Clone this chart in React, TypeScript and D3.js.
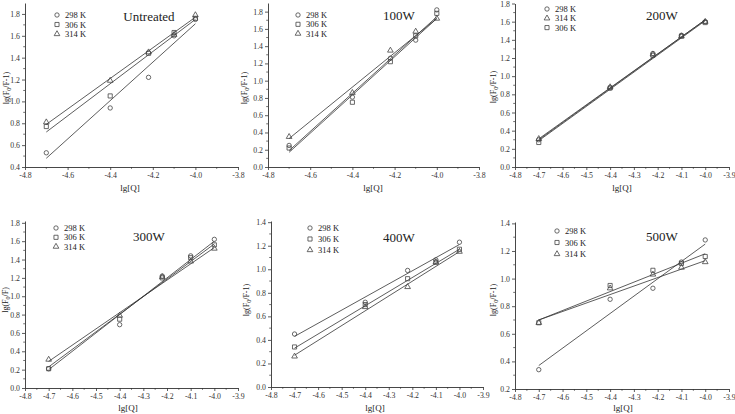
import { useEffect, useRef } from "react";
import * as d3 from "d3";

const WIDTH = 735;
const HEIGHT = 414;
const FONT = "'Liberation Serif', 'Times New Roman', serif";

// lg[Q] values shared by all panels
const lgQ = [-4.7, -4.4, -4.22, -4.1, -4.0];
// fitted lines are drawn between these two x values
const fitX = [-4.7, -4.0];

// Untreated
const untreated298 = [0.53, 0.94, 1.22, 1.6, 1.75];
const untreated306 = [0.77, 1.05, 1.44, 1.63, 1.76];
const untreated314 = [0.81, 1.19, 1.45, 1.61, 1.79];
const untreatedFit298 = [0.48, 1.71];
const untreatedFit306 = [0.72, 1.75];
const untreatedFit314 = [0.79, 1.77];

// 100W
const w100_298 = [0.25, 0.81, 1.26, 1.47, 1.82];
const w100_306 = [0.22, 0.75, 1.22, 1.52, 1.78];
const w100_314 = [0.35, 0.86, 1.35, 1.57, 1.72];
const w100Fit298 = [0.19, 1.74];
const w100Fit306 = [0.17, 1.72];
const w100Fit314 = [0.33, 1.72];

// 200W
const w200_298 = [0.3, 0.87, 1.25, 1.45, 1.6];
const w200_314 = [0.31, 0.88, 1.24, 1.44, 1.6];
const w200_306 = [0.27, 0.87, 1.23, 1.44, 1.59];
const w200Fit298 = [0.3, 1.62];
const w200Fit314 = [0.31, 1.62];
const w200Fit306 = [0.29, 1.61];

// 300W
const w300_298 = [0.21, 0.69, 1.22, 1.44, 1.62];
const w300_306 = [0.21, 0.75, 1.2, 1.42, 1.56];
const w300_314 = [0.31, 0.79, 1.21, 1.38, 1.52];
const w300Fit298 = [0.2, 1.6];
const w300Fit306 = [0.23, 1.57];
const w300Fit314 = [0.29, 1.53];

// 400W
const w400_298 = [0.45, 0.72, 0.99, 1.08, 1.23];
const w400_306 = [0.34, 0.7, 0.92, 1.06, 1.17];
const w400_314 = [0.26, 0.68, 0.85, 1.06, 1.15];
const w400Fit298 = [0.43, 1.21];
const w400Fit306 = [0.33, 1.17];
const w400Fit314 = [0.27, 1.15];

// 500W
const w500_298 = [0.34, 0.85, 0.93, 1.12, 1.28];
const w500_306 = [0.68, 0.95, 1.06, 1.11, 1.16];
const w500_314 = [0.68, 0.93, 1.03, 1.08, 1.12];
const w500Fit298 = [0.37, 1.25];
const w500Fit306 = [0.7, 1.18];
const w500Fit314 = [0.7, 1.13];

type Shape = "circle" | "square" | "triangle";
interface Series {
  label: string;
  shape: Shape;
  values: number[];
  fit: number[];
}
interface Panel {
  title: string;
  xPx: [number, number];
  yPx: [number, number];
  xDom: [number, number];
  yDom: [number, number];
  yTickMax: number;
  xStep: number;
  yStep: number;
  series: Series[];
  legend: [number, number, number];
  titlePos: [number, number];
  ylabel: "F-1" | "F";
  ylabelPos: [number, number];
  xlabelPos: [number, number];
}

const panels: Panel[] = [
  {
    title: "Untreated",
    xPx: [25, 238], yPx: [167, 3], xDom: [-4.8, -3.8], yDom: [0.4, 1.9], yTickMax: 1.8,
    xStep: 0.2, yStep: 0.2,
    series: [
      { label: "298 K", shape: "circle", values: untreated298, fit: untreatedFit298 },
      { label: "306 K", shape: "square", values: untreated306, fit: untreatedFit306 },
      { label: "314 K", shape: "triangle", values: untreated314, fit: untreatedFit314 },
    ],
    legend: [57, 15, 9.5], titlePos: [149, 21], ylabel: "F-1", ylabelPos: [9, 88], xlabelPos: [130, 191],
  },
  {
    title: "100W",
    xPx: [268, 479], yPx: [167, 3], xDom: [-4.8, -3.8], yDom: [0, 1.9], yTickMax: 1.8,
    xStep: 0.2, yStep: 0.2,
    series: [
      { label: "298 K", shape: "circle", values: w100_298, fit: w100Fit298 },
      { label: "306 K", shape: "square", values: w100_306, fit: w100Fit306 },
      { label: "314 K", shape: "triangle", values: w100_314, fit: w100Fit314 },
    ],
    legend: [298, 15, 9.3], titlePos: [399, 20], ylabel: "F-1", ylabelPos: [247, 88], xlabelPos: [373, 191],
  },
  {
    title: "200W",
    xPx: [515, 729], yPx: [167, 3.5], xDom: [-4.8, -3.9], yDom: [0, 1.8], yTickMax: 1.8,
    xStep: 0.1, yStep: 0.2,
    series: [
      { label: "298 K", shape: "circle", values: w200_298, fit: w200Fit298 },
      { label: "314 K", shape: "triangle", values: w200_314, fit: w200Fit314 },
      { label: "306 K", shape: "square", values: w200_306, fit: w200Fit306 },
    ],
    legend: [547, 9, 9.3], titlePos: [662, 20], ylabel: "F-1", ylabelPos: [496, 87], xlabelPos: [622, 191],
  },
  {
    title: "300W",
    xPx: [25, 238], yPx: [388, 221], xDom: [-4.8, -3.9], yDom: [0, 1.82], yTickMax: 1.8,
    xStep: 0.1, yStep: 0.2,
    series: [
      { label: "298 K", shape: "circle", values: w300_298, fit: w300Fit298 },
      { label: "306 K", shape: "square", values: w300_306, fit: w300Fit306 },
      { label: "314 K", shape: "triangle", values: w300_314, fit: w300Fit314 },
    ],
    legend: [56, 228, 9.3], titlePos: [149, 241], ylabel: "F", ylabelPos: [8, 300], xlabelPos: [128, 411],
  },
  {
    title: "400W",
    xPx: [271, 483], yPx: [387, 221], xDom: [-4.8, -3.9], yDom: [0, 1.41], yTickMax: 1.4,
    xStep: 0.1, yStep: 0.2,
    series: [
      { label: "298 K", shape: "circle", values: w400_298, fit: w400Fit298 },
      { label: "306 K", shape: "square", values: w400_306, fit: w400Fit306 },
      { label: "314 K", shape: "triangle", values: w400_314, fit: w400Fit314 },
    ],
    legend: [310, 228, 11], titlePos: [399, 242], ylabel: "F-1", ylabelPos: [249, 300], xlabelPos: [375, 411],
  },
  {
    title: "500W",
    xPx: [515, 729], yPx: [389, 222], xDom: [-4.8, -3.9], yDom: [0.2, 1.41], yTickMax: 1.4,
    xStep: 0.1, yStep: 0.2,
    series: [
      { label: "298 K", shape: "circle", values: w500_298, fit: w500Fit298 },
      { label: "306 K", shape: "square", values: w500_306, fit: w500Fit306 },
      { label: "314 K", shape: "triangle", values: w500_314, fit: w500Fit314 },
    ],
    legend: [557, 231, 11.5], titlePos: [662, 241], ylabel: "F-1", ylabelPos: [496, 300], xlabelPos: [623, 411],
  },
];

const symbolType = (s: Shape) =>
  s === "circle" ? d3.symbolCircle : s === "square" ? d3.symbolSquare : d3.symbolTriangle;
const symbolSize = (s: Shape) => (s === "circle" ? 15 : s === "square" ? 17 : 14);

const App = () => {
  const svgRef = useRef<SVGSVGElement | null>(null);

  useEffect(() => {
    const svg = d3.select(svgRef.current);
    svg.selectAll("*").remove();
    svg.append("rect").attr("width", WIDTH).attr("height", HEIGHT).attr("fill", "#fff");

    panels.forEach((p) => {
      const g = svg.append("g");
      const x = d3.scaleLinear().domain(p.xDom).range(p.xPx);
      const y = d3.scaleLinear().domain(p.yDom).range(p.yPx);

      const xTicks = d3.range(p.xDom[0], p.xDom[1] + 1e-6, p.xStep);
      const xMinor = d3.range(p.xDom[0] + p.xStep / 2, p.xDom[1], p.xStep);
      const yTicks = d3.range(p.yDom[0], p.yTickMax + 1e-6, p.yStep);
      const yMinor = d3.range(p.yDom[0] + p.yStep / 2, p.yDom[1], p.yStep);

      const xAxis = d3
        .axisBottom(x)
        .tickValues(xTicks)
        .tickSizeInner(3)
        .tickSizeOuter(0)
        .tickPadding(2)
        .tickFormat((d) => (+d).toFixed(1));
      const yAxis = d3
        .axisLeft(y)
        .tickValues(yTicks)
        .tickSizeInner(3)
        .tickSizeOuter(0)
        .tickPadding(2)
        .tickFormat((d) => (+d).toFixed(1));

      const gx = g.append("g").attr("transform", `translate(0,${p.yPx[0]})`).call(xAxis as any);
      const gy = g.append("g").attr("transform", `translate(${p.xPx[0]},0)`).call(yAxis as any);
      [gx, gy].forEach((ax) => {
        ax.selectAll("path").attr("stroke", "#333").attr("stroke-width", 0.9);
        ax.selectAll("line").attr("stroke", "#333").attr("stroke-width", 0.8);
        ax.selectAll("text").attr("font-family", FONT).attr("font-size", 7.8).attr("fill", "#333");
      });

      g.selectAll(".xminor")
        .data(xMinor)
        .join("line")
        .attr("x1", (d) => x(d))
        .attr("x2", (d) => x(d))
        .attr("y1", p.yPx[0])
        .attr("y2", p.yPx[0] + 1.8)
        .attr("stroke", "#333")
        .attr("stroke-width", 0.7);
      g.selectAll(".yminor")
        .data(yMinor)
        .join("line")
        .attr("y1", (d) => y(d))
        .attr("y2", (d) => y(d))
        .attr("x1", p.xPx[0])
        .attr("x2", p.xPx[0] - 1.8)
        .attr("stroke", "#333")
        .attr("stroke-width", 0.7);

      // fitted lines
      const line = d3
        .line<number>()
        .x((_, i) => x(fitX[i]))
        .y((d) => y(d));
      p.series.forEach((s) => {
        g.append("path")
          .datum(s.fit)
          .attr("d", line)
          .attr("fill", "none")
          .attr("stroke", "#333")
          .attr("stroke-width", 0.8);
      });

      // points
      p.series.forEach((s) => {
        const sym = d3.symbol().type(symbolType(s.shape)).size(symbolSize(s.shape));
        g.selectAll(`.pt-${s.shape}`)
          .data(s.values)
          .join("path")
          .attr("d", sym as any)
          .attr("transform", (d, i) => `translate(${x(lgQ[i])},${y(d)})`)
          .attr("fill", "none")
          .attr("stroke", "#444")
          .attr("stroke-width", 0.8);
      });

      // legend
      const [lx, ly, ldy] = p.legend;
      p.series.forEach((s, i) => {
        const sym = d3.symbol().type(symbolType(s.shape)).size(symbolSize(s.shape));
        g.append("path")
          .attr("d", sym as any)
          .attr("transform", `translate(${lx},${ly + i * ldy})`)
          .attr("fill", "none")
          .attr("stroke", "#444")
          .attr("stroke-width", 0.8);
        g.append("text")
          .attr("x", lx + 8)
          .attr("y", ly + i * ldy + 3)
          .attr("font-family", FONT)
          .attr("font-size", 8.5)
          .attr("fill", "#222")
          .text(s.label);
      });

      // title
      g.append("text")
        .attr("x", p.titlePos[0])
        .attr("y", p.titlePos[1])
        .attr("text-anchor", "middle")
        .attr("font-family", FONT)
        .attr("font-size", 13)
        .attr("fill", "#222")
        .text(p.title);

      // x label
      g.append("text")
        .attr("x", p.xlabelPos[0])
        .attr("y", p.xlabelPos[1])
        .attr("text-anchor", "middle")
        .attr("font-family", FONT)
        .attr("font-size", 9)
        .attr("fill", "#222")
        .text("lg[Q]");

      // y label
      const yl = g
        .append("text")
        .attr("transform", `translate(${p.ylabelPos[0]},${p.ylabelPos[1]}) rotate(-90)`)
        .attr("text-anchor", "middle")
        .attr("font-family", FONT)
        .attr("font-size", 8)
        .attr("fill", "#222");
      yl.append("tspan").text("lg(F");
      yl.append("tspan").attr("font-size", 6).attr("dy", 2).text("0");
      yl.append("tspan").attr("dy", -2).text(p.ylabel === "F" ? "/F)" : "/F-1)");
    });
  }, []);

  return (
    <svg
      ref={svgRef}
      width={WIDTH}
      height={HEIGHT}
      style={{ position: "absolute", left: 0, top: 0, background: "#fff" }}
    />
  );
};

export default App;
